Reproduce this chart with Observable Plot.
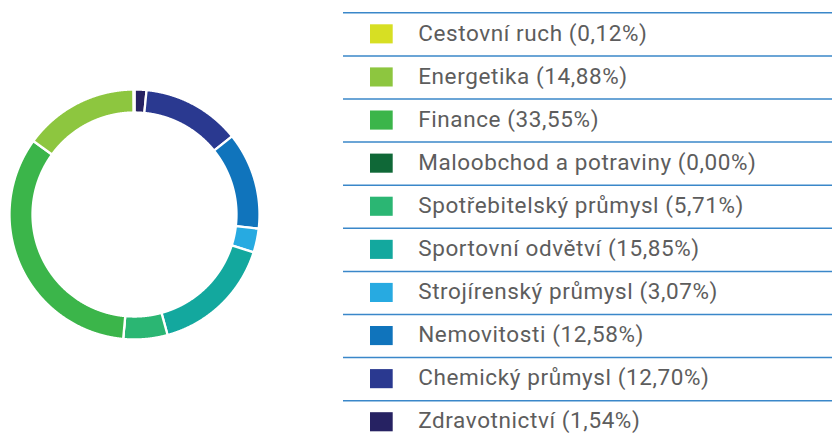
<!DOCTYPE html>
<html><head><meta charset="utf-8">
<script src="https://cdn.jsdelivr.net/npm/d3@7"></script>
<script src="https://cdn.jsdelivr.net/npm/@observablehq/plot@0.6"></script>
<style>
body{margin:0;background:#fff;width:832px;height:437px;overflow:hidden;position:relative;font-family:Roboto,sans-serif}
#donut{position:absolute;left:0;top:0}
#legend{position:absolute;left:340px;top:0}
#legend text{letter-spacing:0.6px}
</style></head><body>
<div id="donut"></div><div id="legend"></div>
<script>
const categories = ["Cestovní ruch","Energetika","Finance","Maloobchod a potraviny","Spotřebitelský průmysl","Sportovní odvětví","Strojírenský průmysl","Nemovitosti","Chemický průmysl","Zdravotnictví"];
const shares = [0.12, 14.88, 33.55, 0.00, 5.71, 15.85, 3.07, 12.58, 12.70, 1.54];
const shareLabels = ["0,12%","14,88%","33,55%","0,00%","5,71%","15,85%","3,07%","12,58%","12,70%","1,54%"];
const colors = ["#d7df23","#8dc63f","#3bb54a","#0f6837","#2bb673","#13a89e","#27aae1","#1074bc","#2a3990","#262262"];

const labels = categories.map((c, i) => `${c} (${shareLabels[i]})`);
const idx = categories.map((_, i) => i);
const colorScale = {domain: categories, range: colors};

// donut: clockwise from top, in reverse legend order
const innerR = 0.816, outerR = 1;
const arcs = d3.pie().sort(null).value(i => shares[i]).startAngle(0).endAngle(2 * Math.PI)(idx.slice().reverse());
const pts = [];
for (const a of arcs) {
  const cat = categories[a.data];
  const n = Math.max(2, Math.ceil((a.endAngle - a.startAngle) / 0.004));
  const ring = [];
  for (let k = 0; k <= n; k++) { const t = a.startAngle + (a.endAngle - a.startAngle) * k / n; ring.push([outerR * Math.sin(t), outerR * Math.cos(t)]); }
  for (let k = n; k >= 0; k--) { const t = a.startAngle + (a.endAngle - a.startAngle) * k / n; ring.push([innerR * Math.sin(t), innerR * Math.cos(t)]); }
  ring.push(ring[0]);
  for (const [x, y] of ring) pts.push({cat, x, y});
}

const donut = Plot.plot({
  width: 270, height: 437,
  marginLeft: 9, marginRight: 11, marginTop: 89, marginBottom: 98,
  x: {domain: [-1, 1], axis: null},
  y: {domain: [-1, 1], axis: null},
  color: colorScale,
  marks: [
    Plot.line(pts, {x: "x", y: "y", z: "cat", fill: "cat", stroke: "white", strokeWidth: 2.3, curve: "linear"})
  ]
});
document.getElementById("donut").appendChild(donut);

const legend = Plot.plot({
  width: 492, height: 437,
  marginLeft: 0, marginRight: 0, marginTop: 0, marginBottom: 0,
  x: {domain: [0, 492], range: [0, 492], axis: null},
  y: {domain: [0, 10], range: [12.3, 443.3], axis: null},
  color: colorScale,
  marks: [
    Plot.ruleY(idx, {y: i => i, x1: 3, x2: 492, stroke: "#3a87c9", strokeWidth: 1.5}),
    Plot.rect(idx, {x1: 30, x2: 52.7, y1: i => i, y2: i => i + 1, insetTop: 12, insetBottom: 12, fill: i => categories[i]}),
    Plot.text(idx, {x: 77.7, y: i => i + 0.5, text: i => labels[i], textAnchor: "start", fontSize: 22.5, fill: "#5d5d5d", fontFamily: "Roboto", dy: -1})
  ]
});
document.getElementById("legend").appendChild(legend);
</script>
</body></html>
